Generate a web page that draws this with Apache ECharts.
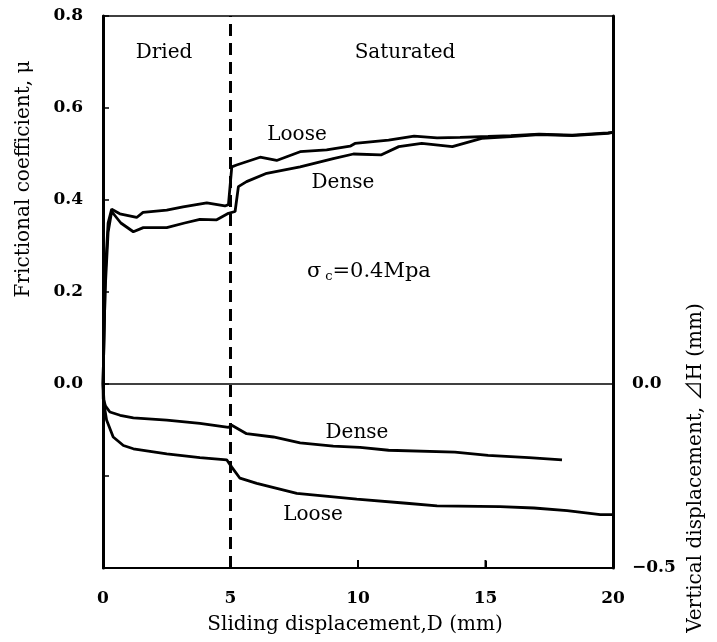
<!DOCTYPE html>
<html>
<head>
<meta charset="utf-8">
<script src="https://cdn.jsdelivr.net/npm/echarts@6/dist/echarts.min.js"></script>
<style>html,body{margin:0;padding:0;background:#fff;}#c{width:717px;height:642px;}</style>
</head>
<body>
<div id="c"></div>
<script>
// Frictional coefficient (left axis)
var looseMuD = [0,0.1,0.2,0.34,0.66,1.32,1.57,2.5,3.14,4.07,4.78,4.92,5.05,5.24,6.16,6.81,7.73,8.77,9.69,9.88,11.2,12.2,13.1,14.0,15.1,16.0,17.1,18.4,19.8,20];
var looseMu  = [0,0.25,0.35,0.38,0.37,0.362,0.373,0.378,0.385,0.394,0.387,0.39,0.472,0.476,0.493,0.486,0.505,0.509,0.517,0.523,0.53,0.539,0.535,0.536,0.538,0.54,0.543,0.541,0.546,0.547];
var denseMuD = [0,0.08,0.2,0.34,0.7,1.19,1.58,2.5,3.2,3.8,4.46,4.92,5.18,5.31,5.63,6.42,7.73,9.03,9.82,10.9,11.6,12.5,13.7,14.85,16.0,17.1,18.4,19.8,20];
var denseMu  = [0,0.2,0.33,0.375,0.35,0.331,0.34,0.34,0.35,0.358,0.357,0.371,0.375,0.429,0.44,0.458,0.472,0.49,0.5,0.498,0.516,0.523,0.516,0.534,0.538,0.542,0.54,0.545,0.547];
// Vertical displacement (right axis)
var denseHD = [0,0.01,0.1,0.27,0.67,1.19,2.5,3.8,4.92,5.05,5.63,6.68,7.73,9.03,10.08,11.2,13.8,15.1,16.7,18.0];
var denseH  = [0,-0.04,-0.06,-0.076,-0.085,-0.092,-0.098,-0.107,-0.118,-0.112,-0.135,-0.144,-0.16,-0.169,-0.172,-0.18,-0.185,-0.194,-0.2,-0.206];
var looseHD = [0,0.05,0.14,0.4,0.8,1.19,2.5,3.8,4.85,5.05,5.37,6.03,7.6,9.95,11.9,13.1,15.57,16.9,18.2,19.5,20];
var looseH  = [0,-0.06,-0.098,-0.144,-0.167,-0.176,-0.19,-0.2,-0.206,-0.226,-0.256,-0.27,-0.297,-0.313,-0.324,-0.331,-0.333,-0.337,-0.344,-0.355,-0.355];
// Ticks
var xTicks = [0,5,10,15,20];
var xInnerTicks = [5,10,15];
var leftLabels = [0.0,0.2,0.4,0.6,0.8];
var rightLabels = [0.0,-0.5];

function pairs(xs, ys){ return xs.map(function(x,i){ return [x, ys[i]]; }); }

var serif = '"DejaVu Serif","Liberation Serif","Noto Sans CJK JP",serif';
var chart = echarts.init(document.getElementById('c'), null, {renderer:'canvas'});
var lineStyle = {color:'#000', width:2.8};
var tickFont = {color:'#000', fontSize:17, fontWeight:'bold', fontFamily:serif};

function txt(x, y, s, size){
  return {type:'text', x:x, y:y, style:{text:s, fontSize:size, fontFamily:serif, fill:'#000', textAlign:'center', textVerticalAlign:'middle'}};
}

chart.setOption({
  animation:false,
  backgroundColor:'#fff',
  grid:{left:103, right:104, top:16, bottom:74, show:true, borderColor:'#000', borderWidth:1.5, backgroundColor:'transparent'},
  xAxis:{type:'value', min:0, max:20, interval:5, position:'bottom',
    axisLine:{show:true, onZero:false, lineStyle:{color:'#000', width:2}},
    axisTick:{show:true, inside:true, length:7, lineStyle:{color:'#000', width:2}},
    axisLabel:Object.assign({margin:22, formatter:function(v){ return xTicks.indexOf(v)>=0 ? String(v) : ''; }}, tickFont),
    splitLine:{show:false}},
  yAxis:[
    {type:'value', min:-0.4, max:0.8, interval:0.2, position:'left',
      axisLine:{show:true, onZero:false, lineStyle:{color:'#000', width:3}},
      axisTick:{show:true, inside:true, length:6, lineStyle:{color:'#000', width:1.5}},
      axisLabel:Object.assign({margin:20, formatter:function(v){ var r=Math.round(v*10)/10; return leftLabels.indexOf(r)>=0 ? r.toFixed(1) : ''; }}, tickFont),
      splitLine:{show:false}},
    {type:'value', min:-0.5, max:1.0, interval:0.5, position:'right',
      axisLine:{show:true, onZero:false, lineStyle:{color:'#000', width:3}},
      axisTick:{show:false},
      axisLabel:Object.assign({margin:19, formatter:function(v){ var r=Math.round(v*10)/10; return rightLabels.indexOf(r)>=0 ? (r<0 ? '\u2212'+Math.abs(r).toFixed(1) : r.toFixed(1)) : ''; }}, tickFont),
      splitLine:{show:false}}
  ],
  series:[
    {type:'line', name:'Loose μ', yAxisIndex:0, data:pairs(looseMuD, looseMu), showSymbol:false, symbol:'none', lineStyle:lineStyle, silent:true,
      markLine:{silent:true, symbol:'none', label:{show:false},
        data:[
          {xAxis:5, lineStyle:{color:'#000', width:3, type:[12,7]}},
          {yAxis:0, lineStyle:{color:'#000', width:1.5, type:'solid'}}
        ]}},
    {type:'line', name:'Dense μ', yAxisIndex:0, data:pairs(denseMuD, denseMu), showSymbol:false, symbol:'none', lineStyle:lineStyle, silent:true},
    {type:'line', name:'Dense ΔH', yAxisIndex:1, data:pairs(denseHD, denseH), showSymbol:false, symbol:'none', lineStyle:lineStyle, silent:true},
    {type:'line', name:'Loose ΔH', yAxisIndex:1, data:pairs(looseHD, looseH), showSymbol:false, symbol:'none', lineStyle:lineStyle, silent:true},
    {type:'custom', name:'xticks', yAxisIndex:1, silent:true, clip:false, z:10,
      data: xInnerTicks.map(function(t){ return [t, -0.5]; }),
      renderItem:function(params, api){
        var p = api.coord([api.value(0), api.value(1)]);
        return {type:'rect', shape:{x:p[0]-1, y:p[1]-8, width:2, height:8}, style:{fill:'#000'}};
      }}
  ],
  graphic:[
    txt(164, 53, 'Dried', 20),
    txt(405, 53, 'Saturated', 20),
    txt(297, 135, 'Loose', 20),
    txt(343, 183, 'Dense', 20),
    {type:'text', x:307, y:272, style:{text:'{a|σ} {b|c}{a|=0.4Mpa}', fontFamily:serif, fill:'#000', textAlign:'left', textVerticalAlign:'middle',
      rich:{a:{fontSize:21, fontFamily:serif, fill:'#000'}, b:{fontSize:13, fontFamily:serif, fill:'#000', padding:[10,0,0,0]}}}},
    txt(357, 433, 'Dense', 20),
    txt(313, 515, 'Loose', 20),
    txt(355, 625, 'Sliding displacement,D (mm)', 20),
    {type:'text', x:24, y:179, rotation:Math.PI/2, style:{text:'Frictional coefficient, μ', fontSize:20, fontFamily:serif, fill:'#000', textAlign:'center', textVerticalAlign:'middle'}},
    {type:'text', x:696, y:468, rotation:Math.PI/2, style:{text:'Vertical displacement, \u22BFH (mm)', fontSize:20, fontFamily:serif, fill:'#000', textAlign:'center', textVerticalAlign:'middle'}}
  ]
});
</script>
</body>
</html>
